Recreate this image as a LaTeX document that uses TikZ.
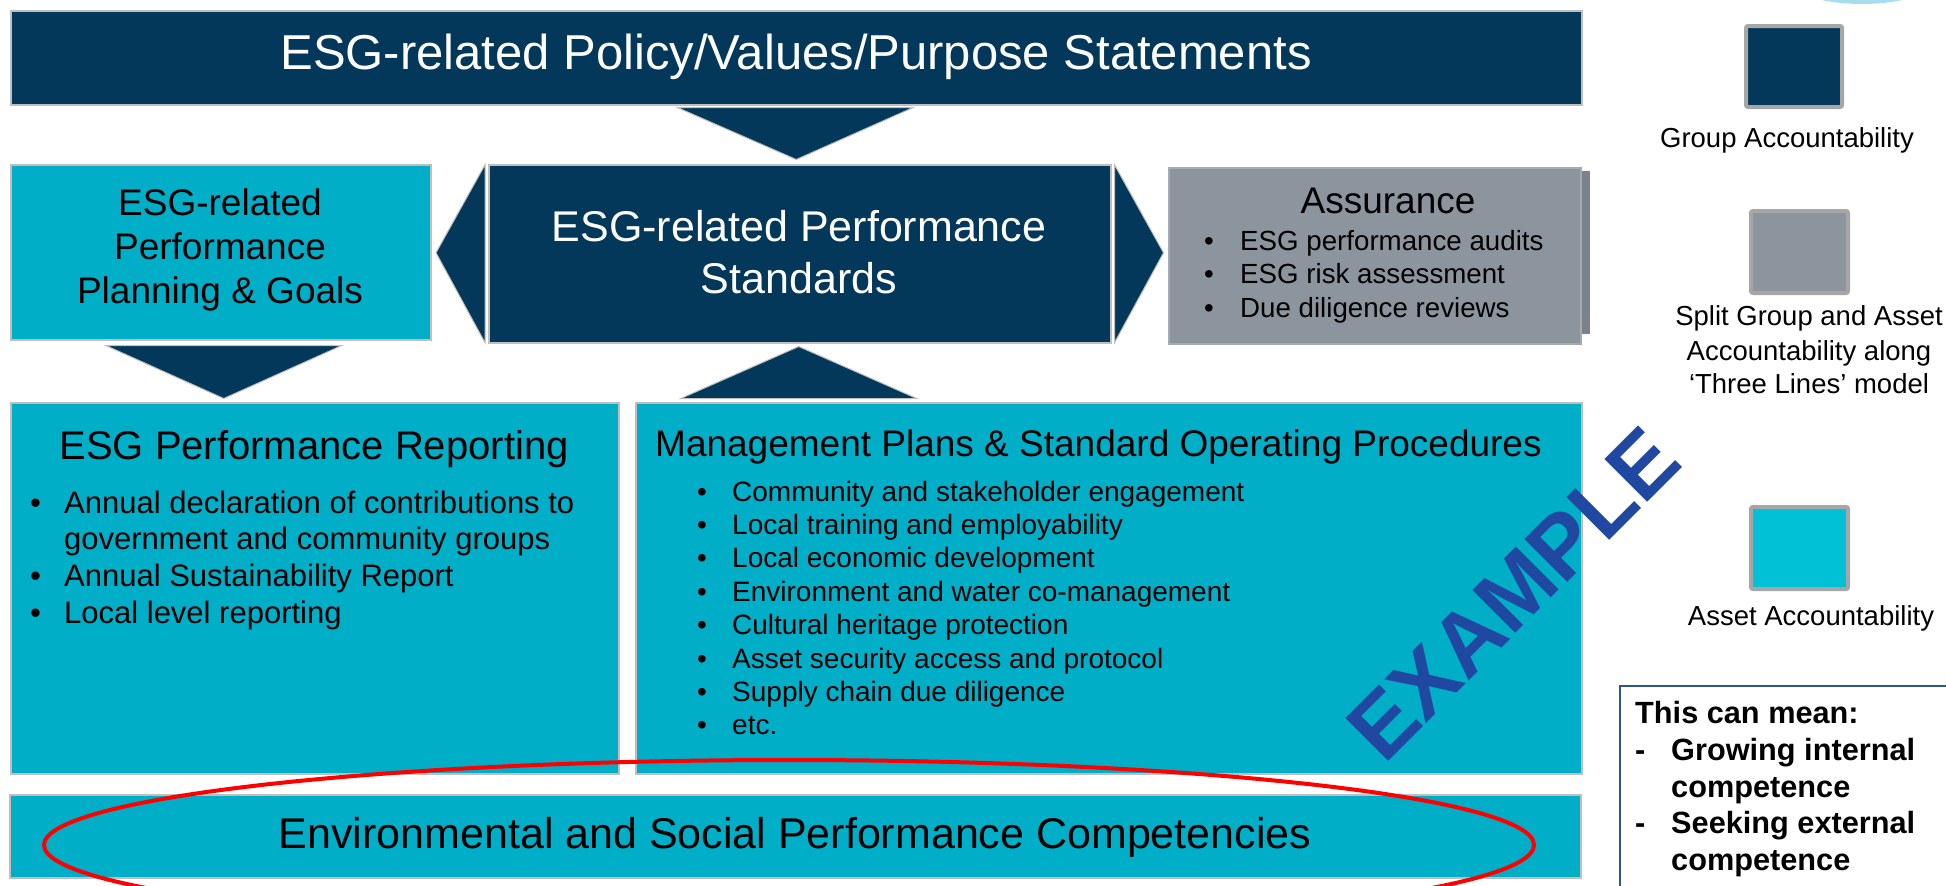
\documentclass[tikz,border=0pt]{standalone}
\usepackage{fontspec}
\setmainfont{Liberation Sans}
\usetikzlibrary{calc}

\definecolor{dnavy}{HTML}{04385B}
\definecolor{boxcyan}{HTML}{00AEC7}
\definecolor{assgray}{HTML}{8C959D}
\definecolor{assshadow}{HTML}{7A838B}
\definecolor{edgegray}{HTML}{BFBFBF}
\definecolor{keygray}{HTML}{A6A6A6}
\definecolor{keycyan}{HTML}{00C1D5}
\definecolor{markblue}{HTML}{2148A0}
\definecolor{noteblue}{HTML}{2F5597}
\definecolor{halo}{HTML}{8FD8EA}

\newcommand{\fs}[1]{\fontsize{#1}{#1}\selectfont}

\tikzset{
  panel/.style={draw=edgegray, line width=1.5pt, anchor=north west, inner sep=0pt},
  navypanel/.style={panel, fill=dnavy},
  cyanpanel/.style={panel, fill=boxcyan},
  graypanel/.style={panel, fill=assgray, draw=assgray!80!white},
  chevron/.style={fill=dnavy, draw=edgegray, line width=1pt, line join=miter},
  keybox/.style={draw=keygray, line width=4pt, rounded corners=2pt, anchor=north west, inner sep=0pt},
  txt/.style={inner sep=0pt, anchor=base},
  ltxt/.style={inner sep=0pt, anchor=base west},
  marktext/.style={inner sep=0pt, rotate=45, font=\bfseries\fs{88}},
}

\begin{document}
\begin{tikzpicture}[x=1pt, y=-1pt]
\useasboundingbox (0,0) rectangle (1946,886);
\clip (0,0) rectangle (1946,886);
\fill[white] (0,0) rectangle (1946,886);

% soft blue halo at the top right corner
\fill[halo, opacity=0.8] (1862,-32) ellipse [x radius=88, y radius=36];

% ---------- panels ----------
\node[navypanel, minimum width=1571, minimum height=94] (policy) at (10,10) {};
\node[cyanpanel, minimum width=420, minimum height=175] (goals) at (10,164) {};
\node[navypanel, minimum width=622, minimum height=178] (standards) at (488,164) {};
\fill[assshadow] (1574,171) rectangle (1590,334);
\node[graypanel, minimum width=412, minimum height=176] (assurance) at (1168,167) {};
\node[cyanpanel, minimum width=608, minimum height=371] (reporting) at (10,402) {};
\node[cyanpanel, minimum width=946, minimum height=371] (mgmt) at (635,402) {};
\node[cyanpanel, minimum width=1571, minimum height=83] (competencies) at (9,794) {};

% ---------- chevrons between panels ----------
\draw[chevron] ($(policy.south)+(-119,2)$) -- ($(policy.south)+(117,2)$) -- ($(policy.south)+(0,54)$) -- cycle;
\draw[chevron] ($(standards.west)+(-3,-89)$) -- ($(standards.west)+(-52,-1)$) -- ($(standards.west)+(-3,89)$) -- cycle;
\draw[chevron] ($(standards.east)+(3,-89)$) -- ($(standards.east)+(52,-1)$) -- ($(standards.east)+(3,89)$) -- cycle;
\draw[chevron] ($(goals.south)+(-115,5)$) -- ($(goals.south)+(121,5)$) -- ($(goals.south)+(3,58)$) -- cycle;
\draw[chevron] ($(standards.south)+(-119,55)$) -- ($(standards.south)+(117,55)$) -- ($(standards.south)+(-1,3)$) -- cycle;

% ---------- panel texts ----------
\node[txt, text=white, font=\fs{49}] (policyT) at (796,69) {ESG-related Policy/Values/Purpose Statements};

\node[txt, font=\fs{37}] (goalsT1) at (220,215) {ESG-related};
\node[txt, font=\fs{37}] (goalsT2) at (220,259) {Performance};
\node[txt, font=\fs{37}] (goalsT3) at (220,303) {Planning \& Goals};

\node[txt, text=white, font=\fs{43}] (stdT1) at (799,241) {ESG-related Performance};
\node[txt, text=white, font=\fs{43}] (stdT2) at (799,293) {Standards};

\node[txt, font=\fs{37}] (assT) at (1388,213) {Assurance};
\foreach \item [count=\i] in {ESG performance audits, ESG risk assessment, Due diligence reviews} {
  \node[ltxt, font=\fs{27.7}] (assB\i) at (1204,{250+33.5*(\i-1)}) {•};
  \node[ltxt, font=\fs{27.7}] (assI\i) at (1240,{250+33.5*(\i-1)}) {\item};
}

\node[txt, font=\fs{40}] (repT) at (314,459) {ESG Performance Reporting};
\node[ltxt, font=\fs{31}] (repB1) at (30,513) {•};
\node[ltxt, font=\fs{31}] (repI1) at (64,513) {Annual declaration of contributions to};
\node[ltxt, font=\fs{31}] (repI1b) at (64,549) {government and community groups};
\node[ltxt, font=\fs{31}] (repB2) at (30,586) {•};
\node[ltxt, font=\fs{31}] (repI2) at (64,586) {Annual Sustainability Report};
\node[ltxt, font=\fs{31}] (repB3) at (30,623) {•};
\node[ltxt, font=\fs{31}] (repI3) at (64,623) {Local level reporting};

\node[ltxt, font=\fs{37}] (mgmtT) at (655,456) {Management Plans \& Standard Operating Procedures};
\foreach \item [count=\i] in {Community and stakeholder engagement, Local training and employability,
  Local economic development, Environment and water co-management, Cultural heritage protection,
  Asset security access and protocol, Supply chain due diligence, etc.} {
  \node[ltxt, font=\fs{28}] (mgB\i) at (697,{501+33.4*(\i-1)}) {•};
  \node[ltxt, font=\fs{28}] (mgI\i) at (732,{501+33.4*(\i-1)}) {\item};
}

\node[txt, font=\fs{43}] (compT) at (795,848) {Environmental and Social Performance Competencies};

% ---------- watermark ----------
\node[marktext, text=markblue] (mark) at (1513,594) {EXAMPLE};

% ---------- highlight ring ----------
\draw[red, line width=4pt] (789,845) ellipse [x radius=745, y radius=85];

% ---------- key ----------
\node[keybox, fill=dnavy, minimum width=96, minimum height=81] (keyGroup) at (1744,24) {};
\node[txt, font=\fs{27.5}] (keyGroupT) at (1787,147) {Group Accountability};

\node[keybox, fill=assgray, minimum width=97, minimum height=82] (keySplit) at (1749,209) {};
\node[txt, font=\fs{27.5}] (keySplitT1) at (1809,325) {Split Group and Asset};
\node[txt, font=\fs{27.5}] (keySplitT2) at (1809,360) {Accountability along};
\node[txt, font=\fs{27.5}] (keySplitT3) at (1809,393) {‘Three Lines’ model};

\node[keybox, fill=keycyan, minimum width=97, minimum height=82] (keyAsset) at (1749,505) {};
\node[txt, font=\fs{27.5}] (keyAssetT) at (1811,625) {Asset Accountability};

% ---------- note ----------
\node[draw=noteblue, line width=1.5pt, fill=white, anchor=north west, inner sep=0pt,
      minimum width=360, minimum height=240] (note) at (1619,685) {};
\node[ltxt, font=\bfseries\fs{30.7}] (noteT) at (1635,723) {This can mean:};
\node[ltxt, font=\bfseries\fs{30.7}] (noteD1) at (1635,760) {-};
\node[ltxt, font=\bfseries\fs{30.7}] (noteI1) at (1671,760) {Growing internal};
\node[ltxt, font=\bfseries\fs{30.7}] (noteI1b) at (1671,797) {competence};
\node[ltxt, font=\bfseries\fs{30.7}] (noteD2) at (1635,833) {-};
\node[ltxt, font=\bfseries\fs{30.7}] (noteI2) at (1671,833) {Seeking external};
\node[ltxt, font=\bfseries\fs{30.7}] (noteI2b) at (1671,870) {competence};
\end{tikzpicture}
\end{document}
